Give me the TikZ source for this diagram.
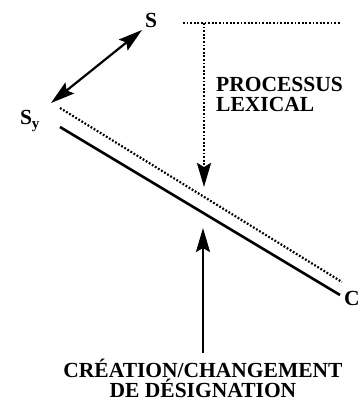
\documentclass[tikz,border=0pt]{standalone}
\usepackage{fontspec}
\setmainfont{Liberation Serif}
\usepackage{tikz}
\usetikzlibrary{arrows.meta}

\tikzset{
  lbl/.style={font=\fontsize{21.5}{20}\selectfont\bfseries,inner sep=0pt},
  dots/.style={line width=2.2pt,dash pattern=on 1.8pt off 1.8pt},
  solidline/.style={line width=2.6pt}
}

\begin{document}
\begin{tikzpicture}[x=1pt,y=-1pt,>={Stealth[length=24pt,width=14pt,inset=4pt]}]
\useasboundingbox (0,0) rectangle (360,405);
\node[lbl] (S) at (151,20) {S};
\node[lbl] (Sy) at (30,121) {S\textsubscript{y}};
\node[lbl] (C) at (352,298) {C};
\node[lbl,anchor=north west,align=left] (proc) at (216,77) {PROCESSUS\\LEXICAL};
\node[lbl,align=center] (crea) at (203,378) {CRÉATION/CHANGEMENT\\DE DÉSIGNATION};
% end points
\coordinate (a1) at (51,103);
\coordinate (a2) at (142,30);
\coordinate (d1) at (60,108);
\coordinate (d2) at (342,282);
\coordinate (l1) at (60,127);
\coordinate (l2) at (340,295);
\coordinate (t1) at (183,23);
\coordinate (t2) at (340,23);
\coordinate (v1) at (204,23);
\coordinate (v2) at (204,187);
\coordinate (u1) at (203,353);
\coordinate (u2) at (203,228);
\draw[<->,line width=2.2pt] (a1) -- (a2);
\draw[dots] (d1) -- (d2);
\draw[solidline] (l1) -- (l2);
\draw[dots] (t1) -- (t2);
\draw[dots,->] (v1) -- (v2);
\draw[->,line width=2.4pt] (u1) -- (u2);
\end{tikzpicture}
\end{document}
